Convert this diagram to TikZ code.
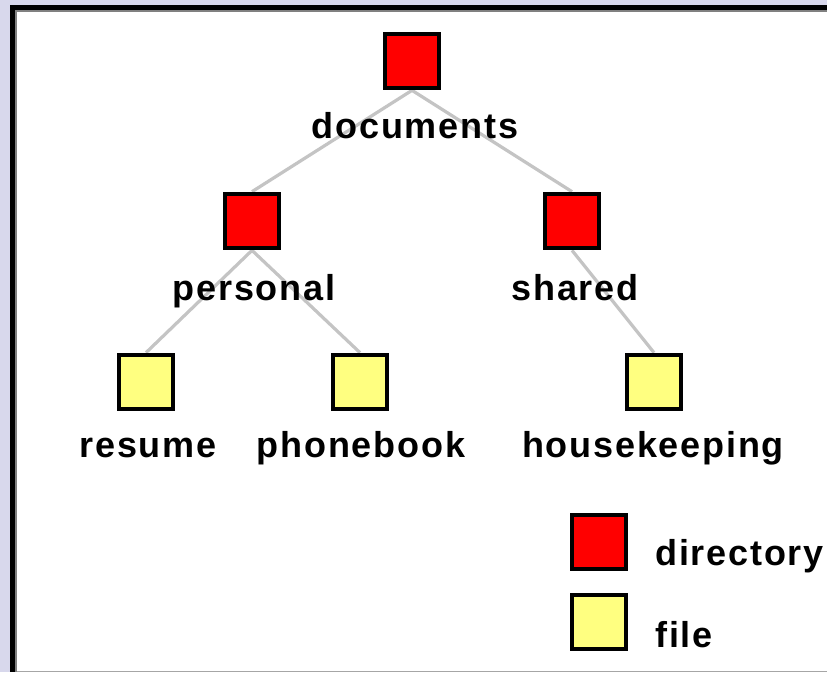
\documentclass[tikz,border=0pt]{standalone}
\usepackage{fontspec}
\setmainfont{Liberation Sans}[LetterSpace=5]

\definecolor{framebg}{RGB}{216,216,236}
\definecolor{dirred}{RGB}{255,0,0}
\definecolor{fileyellow}{RGB}{255,255,128}
\definecolor{edgegray}{RGB}{196,196,196}

\tikzset{
  dirbox/.style={draw=black, line width=3pt, fill=dirred, minimum size=41pt, inner sep=0pt},
  filebox/.style={draw=black, line width=3pt, fill=fileyellow, minimum size=41pt, inner sep=0pt},
  lbl/.style={anchor=base, inner sep=0pt, font=\fontsize{27}{30}\selectfont\bfseries},
  edge/.style={draw=edgegray, line width=2.4pt}
}

\begin{document}
\begin{tikzpicture}[x=0.75pt,y=-0.75pt]

% Frame and background
\useasboundingbox (0,0) rectangle (827,672);
\fill[framebg] (0,0) rectangle (827,672);
\fill[white] (15,10) rectangle (827,672);
\draw[gray!70, line width=0.6pt] (15,671) -- (827,671);
\fill[gray] (15,10) rectangle (827,11.5);
\fill[gray] (15,10) rectangle (16.5,672);
\fill[black] (10,5) rectangle (827,10);
\fill[black] (10,5) rectangle (15,672);

% Boxes
\node[dirbox] (documents) at (412,61) {};
\node[dirbox] (personal) at (252,221) {};
\node[dirbox] (shared) at (572,221) {};
\node[filebox] (resume) at (146,382) {};
\node[filebox] (phonebook) at (360,382) {};
\node[filebox] (housekeeping) at (654,382) {};

% Tree edges
\foreach \p/\c in {documents/personal, documents/shared, personal/resume, personal/phonebook, shared/housekeeping}
{
    \path[edge] (\p.south) -- (\c.north);
}

% Boxes again, over the edge ends
\foreach \n in {documents, personal, shared}
{
    \node[dirbox] at (\n) {};
}
\foreach \n in {resume, phonebook, housekeeping}
{
    \node[filebox] at (\n) {};
}

% Labels
\node[lbl] (documents-lbl) at (415,138) {documents};
\node[lbl] (personal-lbl) at (254,300) {personal};
\node[lbl] (shared-lbl) at (575,300) {shared};
\node[lbl] (resume-lbl) at (148,457) {resume};
\node[lbl] (phonebook-lbl) at (361,457) {phonebook};
\node[lbl] (housekeeping-lbl) at (653,457) {housekeeping};

% Legend
\node[dirbox] (legend-dir) at (599,542) {};
\node[filebox] (legend-file) at (599,622) {};
\node[lbl, anchor=base west] (legend-dir-lbl) at (655,565) {directory};
\node[lbl, anchor=base west] (legend-file-lbl) at (655,647) {file};

\end{tikzpicture}
\end{document}
